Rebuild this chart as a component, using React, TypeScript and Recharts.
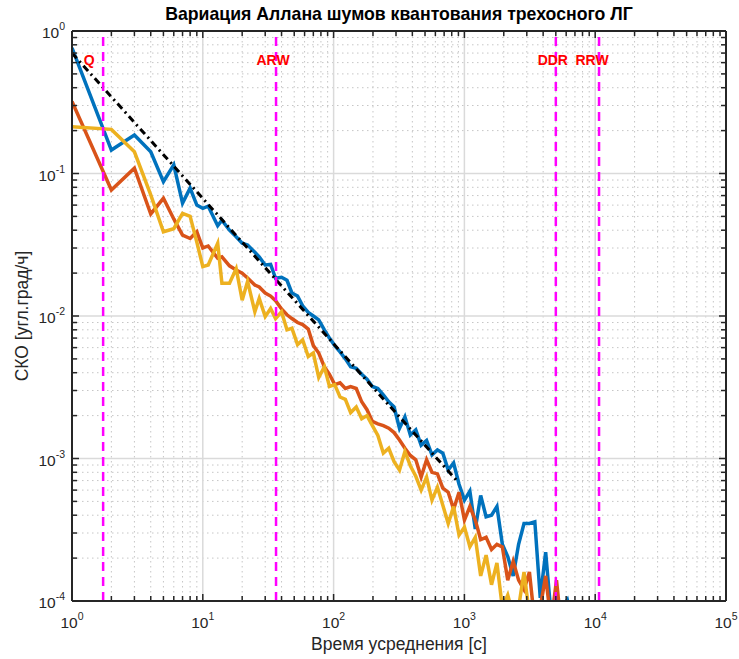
import { LineChart, Line, XAxis, YAxis, CartesianGrid, ReferenceLine } from 'recharts';

const FONT = "'Liberation Sans', Arial, sans-serif";
const TXT = '#262626';

// averaging time, s
const TAU = [
  1, 2, 3, 4, 5, 6, 7, 8, 9, 10,
  11, 13, 14, 16, 18, 20, 22, 25, 27, 30,
  33, 36, 40, 44, 48, 53, 58, 64, 70, 77,
  85, 93, 102, 112, 123, 135, 149, 164, 180, 198,
  218, 240, 264, 290, 319, 351, 386, 425, 467, 514,
  565, 622, 684, 752, 827, 910, 1001, 1101, 1211, 1332,
  1465, 1612, 1773, 1950, 2145, 2360, 2596, 2856, 3141, 3455,
  3801, 4181, 4599, 5059, 5565, 6121, 6733, 7407, 8147, 8962,
  9858, 10844, 11928, 13121,
];

const AXIS_X = [
  0.76, 0.146, 0.186, 0.142, 0.0875, 0.115, 0.062, 0.079, 0.06, 0.057,
  0.059, 0.043, 0.047, 0.04, 0.036, 0.0324, 0.0315, 0.028, 0.026, 0.0228,
  0.023, 0.0184, 0.0187, 0.0178, 0.0145, 0.0138, 0.0118, 0.0106, 0.01, 0.0094,
  0.008, 0.007, 0.0062, 0.0056, 0.005, 0.0044, 0.0043, 0.0039, 0.0036, 0.0032,
  0.0031, 0.0028, 0.0025, 0.0023, 0.00163, 0.00196, 0.00146, 0.00159, 0.00124, 0.00134,
  0.00106, 0.00115, 0.00109, 0.00083, 0.00093, 0.00066, 0.00051, 0.00059, 0.00032, 0.00055,
  0.00039, 0.0004, 0.00046, 0.00025, 0.000205, 0.00015, 0.00025, 0.00035, 0.00035, 0.00036,
  0.000105, 0.00022, 0.00008, 0.00006, 0.00009, 0.000102, 0.00007, 0.00005, 0.00004, 0.00006,
  0.00005, 0.00007, 0.00009, 0.00006,
];

const AXIS_Y = [
  0.32, 0.0766, 0.109, 0.052, 0.067, 0.048, 0.037, 0.035, 0.039, 0.03,
  0.031, 0.0254, 0.026, 0.0225, 0.021, 0.02, 0.0185, 0.0165, 0.016, 0.0145,
  0.0138, 0.0128, 0.0112, 0.0102, 0.0096, 0.009, 0.0087, 0.0081, 0.0062, 0.0055,
  0.0044, 0.0039, 0.0033, 0.0034, 0.0031, 0.0032, 0.0031, 0.0025, 0.0022, 0.00182,
  0.00175, 0.0017, 0.00163, 0.00152, 0.00135, 0.00118, 0.00105, 0.00098, 0.00074, 0.00098,
  0.0008, 0.00078, 0.00062, 0.00058, 0.00044, 0.00058, 0.00037, 0.00046, 0.00037, 0.00027,
  0.00028, 0.00023, 0.00025, 0.00024, 0.00014, 0.00019, 0.00014, 0.00012, 0.00016, 0.00007,
  0.00009, 0.00015, 0.00007, 0.00014, 0.00006, 0.000095, 0.00005, 0.00004, 0.00005, 0.00003,
  0.00004, 0.00003, 0.00005, 0.00004,
];

const AXIS_Z = [
  0.213, 0.204, 0.142, 0.0707, 0.039, 0.041, 0.0525, 0.05, 0.033, 0.0222,
  0.0228, 0.0324, 0.017, 0.017, 0.0215, 0.0129, 0.0175, 0.0107, 0.0133, 0.0099,
  0.0113, 0.0096, 0.0107, 0.008, 0.0082, 0.0063, 0.0068, 0.0052, 0.0055, 0.0037,
  0.0044, 0.0032, 0.0033, 0.0027, 0.0026, 0.0021, 0.0023, 0.0019, 0.002, 0.0017,
  0.00145, 0.00109, 0.00118, 0.00095, 0.00083, 0.00112, 0.00089, 0.00075, 0.0006, 0.00074,
  0.00051, 0.00063, 0.00047, 0.00035, 0.00046, 0.00029, 0.00033, 0.00024, 0.00028, 0.00015,
  0.00021, 0.00013, 0.000185, 0.00009, 0.00011, 0.00008, 0.00009, 0.00016, 0.00008, 0.00006,
  0.00005, 0.00004, 0.00006, 0.00003, 0.00004, 0.00003, 0.00004, 0.00003, 0.00002, 0.00003,
  0.00002, 0.00003, 0.00002, 0.00003,
];

// quantization noise fit (slope -1)
const FIT_TAU = [1, 900];
const FIT_VAL = [0.7, 0.00068];

const MARKER_NAMES = ['Q', 'ARW', 'DDR', 'RRW'];
const MARKER_TAU = [1.73, 36.3, 5000, 10700];

const X_MAJOR = [1, 10, 100, 1000, 10000, 100000];
const Y_MAJOR = [0.0001, 0.001, 0.01, 0.1, 1];
const MULT = [2, 3, 4, 5, 6, 7, 8, 9];

const X_MINOR = X_MAJOR.slice(0, -1).flatMap((d) => MULT.map((k) => k * d));
const Y_MINOR = Y_MAJOR.slice(0, -1).flatMap((d) => MULT.map((k) => k * d));

const toRows = (vals: number[]) => TAU.map((t, i) => ({ tau: t, v: vals[i] }));
const blueData = toRows(AXIS_X);
const orangeData = toRows(AXIS_Y);
const yellowData = toRows(AXIS_Z);
const fitData = FIT_TAU.map((t, i) => ({ tau: t, v: FIT_VAL[i] }));

const isMajor = (v: number) => {
  const e = Math.round(Math.log10(v));
  return Math.abs(v - Math.pow(10, e)) < 1e-9 * v;
};

function Pow10({ x, y, v, anchor }: any) {
  const e = Math.round(Math.log10(v));
  return (
    <text x={x} y={y} textAnchor={anchor} fontSize={15.5} fill={TXT} fontFamily={FONT}>
      <tspan>10</tspan>
      <tspan dy={-8} fontSize={10.5}>{e}</tspan>
    </text>
  );
}

function TickX({ x, y, payload, top }: any) {
  const major = isMajor(payload.value);
  const len = major ? 7 : 5;
  return (
    <g>
      <line x1={x} x2={x} y1={y} y2={top ? y + len : y - len} stroke={TXT} strokeWidth={1.5} />
      {!top && major && <Pow10 x={x} y={y + 27} v={payload.value} anchor="middle" />}
    </g>
  );
}

function TickY({ x, y, payload, right }: any) {
  const major = isMajor(payload.value);
  const len = major ? 7 : 5;
  return (
    <g>
      <line x1={x} x2={right ? x - len : x + len} y1={y} y2={y} stroke={TXT} strokeWidth={1.5} />
      {!right && major && <Pow10 x={x - 7} y={y + 7} v={payload.value} anchor="end" />}
    </g>
  );
}

const axisLine = { stroke: TXT, strokeWidth: 2 };
const xTicks = [...X_MAJOR, ...X_MINOR].sort((a, b) => a - b);
const yTicks = [...Y_MAJOR, ...Y_MINOR].sort((a, b) => a - b);

export default function App() {
  return (
    <div style={{ position: 'absolute', left: 0, top: 0, width: 739, height: 659, background: '#fff', fontFamily: FONT }}>
      <LineChart width={739} height={659} margin={{ top: 11, right: 8, bottom: 28, left: 22 }}>
        <CartesianGrid verticalValues={X_MINOR} horizontalValues={Y_MINOR} stroke="#c6c6c6" strokeDasharray="1.5 3.5" />
        <CartesianGrid verticalValues={[10, 100, 1000, 10000]} horizontalValues={[0.001, 0.01, 0.1]} stroke="#dadada" strokeWidth={1.5} />
        <XAxis
          dataKey="tau"
          type="number"
          scale="log"
          domain={[1, 100000]}
          allowDataOverflow
          ticks={xTicks}
          interval={0}
          height={30}
          tickSize={0}
          tickMargin={0}
          tickLine={false}
          axisLine={axisLine}
          tick={<TickX />}
          label={({ viewBox }: any) => (
            <text x={viewBox.x + viewBox.width / 2} y={650} textAnchor="middle" fontSize={17.5} fill={TXT} fontFamily={FONT}>
              Время усреднения [с]
            </text>
          )}
        />
        <XAxis
          xAxisId="top"
          orientation="top"
          dataKey="tau"
          type="number"
          scale="log"
          domain={[1, 100000]}
          allowDataOverflow
          ticks={xTicks}
          interval={0}
          height={20}
          tickSize={0}
          tickMargin={0}
          tickLine={false}
          axisLine={axisLine}
          tick={<TickX top />}
          label={({ viewBox }: any) => (
            <text x={viewBox.x + viewBox.width / 2} y={20} textAnchor="middle" fontSize={17.7} fontWeight="bold" fill="#000" fontFamily={FONT}>
              Вариация Аллана шумов квантования трехосного ЛГ
            </text>
          )}
        />
        <YAxis
          type="number"
          scale="log"
          domain={[0.0001, 1]}
          allowDataOverflow
          ticks={yTicks}
          interval={0}
          width={50}
          tickSize={0}
          tickMargin={0}
          tickLine={false}
          axisLine={axisLine}
          tick={<TickY />}
          label={({ viewBox }: any) => {
            const cx = 23;
            const cy = viewBox.y + viewBox.height / 2;
            return (
              <text x={cx} y={cy} transform={`rotate(-90 ${cx} ${cy})`} textAnchor="middle" dominantBaseline="middle" fontSize={17.5} fill={TXT} fontFamily={FONT}>
                СКО [угл.град/ч]
              </text>
            );
          }}
        />
        <YAxis
          yAxisId="right"
          orientation="right"
          type="number"
          scale="log"
          domain={[0.0001, 1]}
          allowDataOverflow
          ticks={yTicks}
          interval={0}
          width={5}
          tickSize={0}
          tickMargin={0}
          tickLine={false}
          axisLine={axisLine}
          tick={<TickY right />}
        />
        <Line data={blueData} dataKey="v" stroke="#0072BD" strokeWidth={3.5} dot={false} isAnimationActive={false} />
        <Line data={orangeData} dataKey="v" stroke="#D95319" strokeWidth={3.5} dot={false} isAnimationActive={false} />
        <Line data={yellowData} dataKey="v" stroke="#EDB120" strokeWidth={3.5} dot={false} isAnimationActive={false} />
        <Line data={fitData} dataKey="v" stroke="#000" strokeWidth={3} strokeDasharray="7 4 2 4" dot={false} isAnimationActive={false} />
        {MARKER_TAU.map((t, i) => (
          <ReferenceLine
            key={MARKER_NAMES[i]}
            x={t}
            stroke="#FF00FF"
            strokeWidth={2.5}
            strokeDasharray="9 6"
            label={({ viewBox }: any) => (
              <text x={viewBox.x + [-14, -3, -3, -7][i]} y={viewBox.y + 34} textAnchor="middle" fontSize={14} fontWeight="bold" fill="#FF0000" fontFamily={FONT}>
                {MARKER_NAMES[i]}
              </text>
            )}
          />
        ))}
      </LineChart>
    </div>
  );
}
